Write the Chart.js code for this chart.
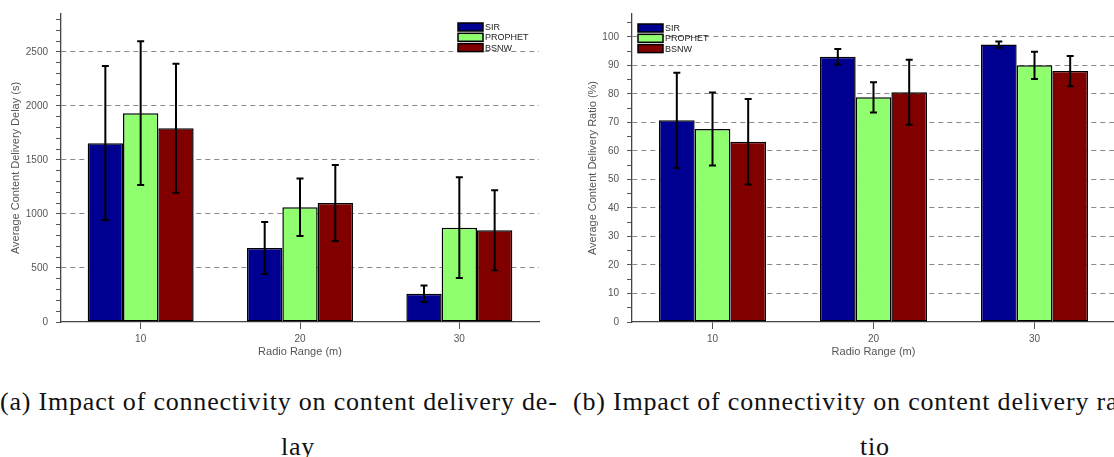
<!DOCTYPE html>
<html>
<head>
<meta charset="utf-8">
<script src="https://cdn.jsdelivr.net/npm/chart.js@4/dist/chart.umd.min.js"></script>
<style>
  body { margin: 0; width: 1114px; height: 457px; overflow: hidden; background: #fff; position: relative; }
  .box { position: absolute; top: 0; height: 370px; }
  .cap { position: absolute; font-family: "Liberation Serif", "Times New Roman", serif; font-size: 26px; letter-spacing: 0.8px; color: #111; white-space: nowrap; line-height: 1; }
</style>
</head>
<body>
<div class="box" style="left:0;width:555px"><canvas id="delay-chart" width="555" height="370"></canvas></div>
<div class="box" style="left:555px;width:560px"><canvas id="ratio-chart" width="560" height="370"></canvas></div>
<div class="cap" style="left:0;top:389px">(a) Impact of connectivity on content delivery de-</div>
<div class="cap" style="left:281px;top:434px">lay</div>
<div class="cap" style="left:573px;top:389px">(b) Impact of connectivity on content delivery ra-</div>
<div class="cap" style="left:860px;top:434px">tio</div>
<script>
// radio range categories
const ranges = ['10', '20', '30'];
const protocols = ['SIR', 'PROPHET', 'BSNW'];
const protocolColors = ['#000090', '#8fff70', '#800000'];

// average content delivery delay (s)
const delaySir = [1655, 685, 261];
const delayProphet = [1932, 1061, 873];
const delayBsnw = [1792, 1101, 849];
const delaySirErr = [713, 241, 77];
const delayProphetErr = [665, 266, 467];
const delayBsnwErr = [597, 352, 371];

// average content delivery ratio (%)
const ratioSir = [70.7, 93.0, 97.3];
const ratioProphet = [67.7, 78.8, 90.0];
const ratioBsnw = [63.2, 80.6, 88.0];
const ratioSirErr = [16.7, 2.7, 1.1];
const ratioProphetErr = [12.8, 5.3, 4.8];
const ratioBsnwErr = [15.0, 11.4, 5.3];

const axisGray = '#555';
const font = 'Liberation Sans, Arial, sans-serif';

// error bars drawn on top of each bar
const errorBars = {
    id: 'errorBars',
    afterDatasetsDraw(chart) {
        const ctx = chart.ctx;
        const y = chart.scales.y;
        ctx.save();
        ctx.strokeStyle = '#000';
        ctx.lineWidth = 2;
        chart.data.datasets.forEach((ds, di) => {
            const meta = chart.getDatasetMeta(di);
            meta.data.forEach((bar, i) => {
                const v = ds.data[i], e = ds.errors[i];
                const top = y.getPixelForValue(v + e);
                const bot = y.getPixelForValue(v - e);
                ctx.beginPath();
                ctx.moveTo(bar.x, top); ctx.lineTo(bar.x, bot);
                ctx.moveTo(bar.x - 3.5, top); ctx.lineTo(bar.x + 3.5, top);
                ctx.moveTo(bar.x - 3.5, bot); ctx.lineTo(bar.x + 3.5, bot);
                ctx.stroke();
            });
        });
        ctx.restore();
    }
};

// small stacked legend inside the plot
const boxLegend = {
    id: 'boxLegend',
    afterDraw(chart, args, opts) {
        const ctx = chart.ctx;
        const area = chart.chartArea;
        const x0 = opts.fromRight ? area.right - opts.dx : area.left + opts.dx;
        const y0 = area.top + opts.dy;
        ctx.save();
        ctx.font = '9px ' + font;
        ctx.textBaseline = 'middle';
        chart.data.datasets.forEach((ds, i) => {
            const yy = y0 + i * 10.3;
            ctx.fillStyle = ds.backgroundColor;
            ctx.fillRect(x0, yy, 25, 8);
            ctx.strokeStyle = '#000';
            ctx.lineWidth = 1.5;
            ctx.strokeRect(x0, yy, 25, 8);
            ctx.fillStyle = '#222';
            ctx.fillText(ds.label, x0 + 27, yy + 4.5);
        });
        ctx.restore();
    }
};

function makeDatasets(values, errors) {
    return protocols.map((name, i) => ({
        label: name,
        data: values[i],
        errors: errors[i],
        backgroundColor: protocolColors[i],
        borderColor: '#000',
        borderWidth: 1.5,
        borderSkipped: false,
        barPercentage: 1,
        categoryPercentage: 0.665
    }));
}

function makeChart(id, datasets, yOpts) {
    new Chart(document.getElementById(id), {
        type: 'bar',
        data: { labels: ranges, datasets: datasets },
        plugins: [errorBars, boxLegend],
        options: {
            responsive: false,
            animation: false,
            devicePixelRatio: 1,
            layout: { padding: yOpts.padding },
            plugins: {
                legend: { display: false },
                tooltip: { enabled: false },
                boxLegend: yOpts.legend
            },
            scales: {
                x: {
                    offset: true,
                    grid: { offset: false, drawOnChartArea: false, tickLength: 7, tickColor: axisGray },
                    border: { color: '#444', width: 1.3 },
                    ticks: { color: axisGray, font: { family: font, size: 10 }, padding: 4 },
                    title: { display: true, text: 'Radio Range (m)', color: axisGray, font: { family: font, size: 11 }, padding: { top: 0, bottom: 11 } },
                    afterFit: s => { s.height = 48; }
                },
                y: {
                    min: 0,
                    max: yOpts.max,
                    grid: {
                        color: c => (c.tick && c.tick.value > 0 && c.tick.value % yOpts.major === 0) ? '#888' : 'rgba(0,0,0,0)',
                        tickColor: axisGray,
                        tickLength: 5,
                        lineWidth: 1
                    },
                    border: { color: '#444', width: 1.3, dash: [5, 4] },
                    ticks: {
                        stepSize: yOpts.minor,
                        includeBounds: false,
                        autoSkip: false,
                        color: axisGray,
                        font: { family: font, size: 10 },
                        padding: 8,
                        callback: v => (v % yOpts.major === 0 ? v : '')
                    },
                    title: { display: true, text: yOpts.title, color: axisGray, font: { family: font, size: 11 }, padding: { top: yOpts.titlePad, bottom: 0 } },
                    afterFit: s => { s.width = yOpts.axisWidth; }
                }
            }
        }
    });
}

makeChart('delay-chart',
    makeDatasets([delaySir, delayProphet, delayBsnw], [delaySirErr, delayProphetErr, delayBsnwErr]),
    {
        max: 2850, major: 500, minor: 100, axisWidth: 61, titlePad: 9,
        title: 'Average Content Delivery Delay (s)',
        padding: { top: 13, left: 0, right: 16, bottom: 0 },
        legend: { fromRight: true, dx: 81, dy: 9 }
    });

makeChart('ratio-chart',
    makeDatasets([ratioSir, ratioProphet, ratioBsnw], [ratioSirErr, ratioProphetErr, ratioBsnwErr]),
    {
        max: 108, major: 10, minor: 5, axisWidth: 77, titlePad: 31,
        title: 'Average Content Delivery Ratio (%)',
        padding: { top: 9, left: 0, right: 0, bottom: 0 },
        legend: { fromRight: false, dx: 6, dy: 10 }
    });
</script>
</body>
</html>
